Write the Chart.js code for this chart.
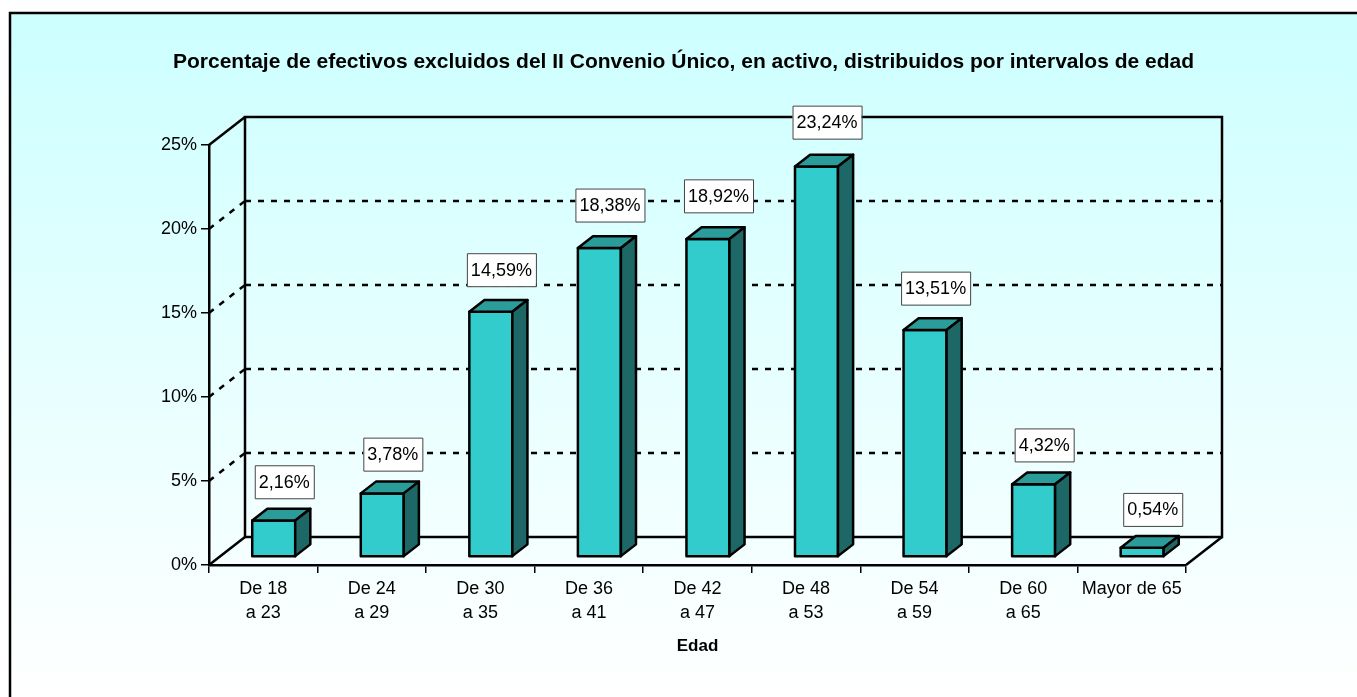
<!DOCTYPE html>
<html>
<head>
<meta charset="utf-8">
<title>Porcentaje de efectivos por intervalos de edad</title>
<script src="https://cdn.jsdelivr.net/npm/chart.js@4.4.1/dist/chart.umd.min.js"></script>
<style>
    html, body { margin: 0; padding: 0; background: #fff; }
    canvas { display: block; }
</style>
</head>
<body>
<canvas id="edadChart" width="1357" height="697"></canvas>
<script>
const chartTitle = 'Porcentaje de efectivos excluidos del II Convenio Único, en activo, distribuidos por intervalos de edad';
const axisTitle = 'Edad';
const categories = [
    ['De 18', 'a 23'], ['De 24', 'a 29'], ['De 30', 'a 35'], ['De 36', 'a 41'],
    ['De 42', 'a 47'], ['De 48', 'a 53'], ['De 54', 'a 59'], ['De 60', 'a 65'], 'Mayor de 65'
];
const percentages = [2.16, 3.78, 14.59, 18.38, 18.92, 23.24, 13.51, 4.32, 0.54];
const yTicks = [0, 5, 10, 15, 20, 25];

const FONT = '"Liberation Sans", Arial, sans-serif';
const DEPTH_X = 36;
const DEPTH_Y = 28;

Chart.defaults.font.family = FONT;
Chart.defaults.color = '#000';

function line(ctx, x1, y1, x2, y2) {
    ctx.beginPath();
    ctx.moveTo(x1, y1);
    ctx.lineTo(x2, y2);
    ctx.stroke();
}

function poly(ctx, pts, fill) {
    ctx.beginPath();
    ctx.moveTo(pts[0][0], pts[0][1]);
    pts.slice(1).forEach(p => ctx.lineTo(p[0], p[1]));
    ctx.closePath();
    ctx.fillStyle = fill;
    ctx.fill();
    ctx.stroke();
}

const frame3d = {
    id: 'frame3d',
    beforeDraw(chart) {
        const ctx = chart.ctx;
        ctx.save();
        const grad = ctx.createLinearGradient(0, 13, 0, chart.height);
        grad.addColorStop(0, '#ccffff');
        grad.addColorStop(1, '#ffffff');
        ctx.fillStyle = grad;
        ctx.fillRect(10, 13, chart.width, chart.height);
        ctx.lineWidth = 2.5;
        ctx.strokeStyle = '#000';
        ctx.strokeRect(10, 13, chart.width + 20, chart.height + 20);
        ctx.restore();
    },
    beforeDatasetsDraw(chart) {
        const {ctx, chartArea: a, scales: {y}} = chart;
        const top = y.getPixelForValue(yTicks[yTicks.length - 1]);
        const bottom = y.getPixelForValue(yTicks[0]);
        ctx.save();
        ctx.strokeStyle = '#000';
        ctx.lineWidth = 2.5;

        // dotted gridlines on side wall and back wall
        ctx.setLineDash([6, 7]);
        yTicks.slice(1, -1).forEach(v => {
            const py = y.getPixelForValue(v);
            line(ctx, a.left, py, a.left + DEPTH_X, py - DEPTH_Y);
            line(ctx, a.left + DEPTH_X, py - DEPTH_Y, a.right + DEPTH_X, py - DEPTH_Y);
        });
        ctx.setLineDash([]);

        // back wall
        ctx.strokeRect(a.left + DEPTH_X, top - DEPTH_Y, a.right - a.left, bottom - top);
        // side wall top edge and floor edges
        line(ctx, a.left, top, a.left + DEPTH_X, top - DEPTH_Y);
        line(ctx, a.left, bottom, a.left + DEPTH_X, bottom - DEPTH_Y);
        line(ctx, a.right, bottom, a.right + DEPTH_X, bottom - DEPTH_Y);
        ctx.restore();
    },
    afterDatasetsDraw(chart) {
        const ctx = chart.ctx;
        const meta = chart.getDatasetMeta(0);
        const f = 0.29, d = 0.42;
        const dx = DEPTH_X * d, dy = DEPTH_Y * d;
        ctx.save();
        ctx.strokeStyle = '#000';
        ctx.lineWidth = 2.5;
        ctx.lineJoin = 'round';
        const boxes = [];
        meta.data.forEach((bar, i) => {
            const {x, y, base, width} = bar.getProps(['x', 'y', 'base', 'width'], true);
            const x0 = x - width / 2 + DEPTH_X * f;
            const x1 = x + width / 2 + DEPTH_X * f;
            const yt = y - DEPTH_Y * f;
            const yb = base - DEPTH_Y * f;
            poly(ctx, [[x0, yt], [x1, yt], [x1, yb], [x0, yb]], '#33cccc');
            poly(ctx, [[x0, yt], [x0 + dx, yt - dy], [x1 + dx, yt - dy], [x1, yt]], '#2a9c99');
            poly(ctx, [[x1, yt], [x1 + dx, yt - dy], [x1 + dx, yb - dy], [x1, yb]], '#1d6866');
            boxes.push({cx: (x0 + x1 + dx) / 2 + 3, bottom: yt - dy - (10 + 0.26 * percentages[i]), v: percentages[i]});
        });

        // value labels
        ctx.font = '18px ' + FONT;
        ctx.textAlign = 'center';
        ctx.textBaseline = 'middle';
        ctx.lineWidth = 1;
        ctx.strokeStyle = '#444';
        boxes.forEach(b => {
            const text = b.v.toFixed(2).replace('.', ',') + '%';
            const bw = ctx.measureText(text).width + 8;
            const bh = 33;
            ctx.fillStyle = '#fff';
            ctx.fillRect(b.cx - bw / 2, b.bottom - bh, bw, bh);
            ctx.strokeRect(b.cx - bw / 2 + 0.5, b.bottom - bh + 0.5, bw, bh);
            ctx.fillStyle = '#000';
            ctx.fillText(text, b.cx, b.bottom - bh / 2 + 1);
        });
        ctx.restore();
    }
};

new Chart(document.getElementById('edadChart'), {
    type: 'bar',
    data: {
        labels: categories,
        datasets: [{
            data: percentages,
            backgroundColor: 'rgba(0,0,0,0)',
            borderWidth: 0,
            categoryPercentage: 1,
            barPercentage: 0.396
        }]
    },
    options: {
        responsive: false,
        animation: false,
        devicePixelRatio: 1,
        layout: { padding: { left: 10, right: 0, top: 0, bottom: 0 } },
        plugins: {
            legend: { display: false },
            tooltip: { enabled: false },
            title: {
                display: true,
                text: chartTitle,
                color: '#000',
                font: { size: 21, weight: 'bold', lineHeight: '24px' },
                padding: { top: 50, bottom: 71 }
            }
        },
        scales: {
            x: {
                grid: { offset: true, drawOnChartArea: false, drawTicks: true, tickLength: 8, color: '#000', lineWidth: 1.5 },
                border: { display: true, color: '#000', width: 2.5 },
                ticks: { font: { size: 18, lineHeight: 1.33 }, color: '#000', padding: 4, maxRotation: 0, autoSkip: false },
                title: {
                    display: true,
                    text: axisTitle,
                    color: '#000',
                    font: { size: 17, weight: 'bold', lineHeight: 1.2 },
                    padding: { top: 0, bottom: 40 }
                },
                afterFit(s) { s.height = 132; }
            },
            y: {
                min: yTicks[0],
                max: yTicks[yTicks.length - 1],
                afterBuildTicks(s) { s.ticks = yTicks.map(v => ({value: v})); },
                grid: { drawOnChartArea: false, drawTicks: true, tickLength: 8, color: '#000', lineWidth: 1.5 },
                border: { display: true, color: '#000', width: 2.5 },
                ticks: { font: { size: 18 }, color: '#000', padding: 4, callback: v => v + '%' },
                afterFit(s) { s.width = 199; }
            },
            yRight: {
                position: 'right',
                display: true,
                min: yTicks[0],
                max: yTicks[yTicks.length - 1],
                grid: { display: false },
                border: { display: false },
                ticks: { display: false },
                afterFit(s) { s.width = 171; }
            }
        }
    },
    plugins: [frame3d]
});
</script>
</body>
</html>
